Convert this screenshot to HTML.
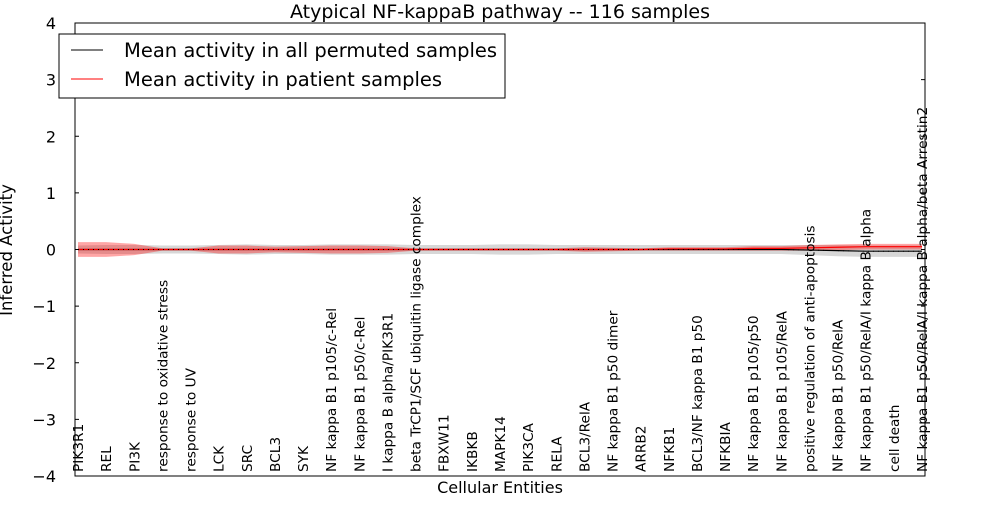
<!DOCTYPE html>
<html><head><meta charset="utf-8"><style>
body{margin:0;background:#fff;}
svg{font-family:"DejaVu Sans","Liberation Sans",sans-serif;}
</style></head><body>
<svg id="chart" width="1000" height="500">
<rect width="1000" height="500" fill="#fff"/>
<g id="bands"></g>
<g id="lines"></g>
<g id="xlabels"></g>
<rect x="75" y="23" width="850" height="453" fill="none" stroke="#000" stroke-width="1"/>
<g id="yticks"></g>
<text x="500" y="18" text-anchor="middle" font-size="19">Atypical NF-kappaB pathway -- 116 samples</text>
<text x="500" y="493" text-anchor="middle" font-size="16">Cellular Entities</text>
<text transform="translate(12,250) rotate(-90)" text-anchor="middle" font-size="16.5">Inferred Activity</text>
<g>
<rect x="59" y="34" width="446" height="64" fill="#fff" stroke="#000"/>
<line x1="71" y1="50" x2="103" y2="50" stroke="#000"/>
<text x="124" y="57" font-size="19.5">Mean activity in all permuted samples</text>
<line x1="71" y1="79" x2="103" y2="79" stroke="#f00"/>
<text x="124" y="86" font-size="19.5">Mean activity in patient samples</text>
</g>
</svg>
<script>
const categories=["PIK3R1","REL","PI3K","response to oxidative stress","response to UV","LCK","SRC","BCL3","SYK","NF kappa B1 p105/c-Rel","NF kappa B1 p50/c-Rel","I kappa B alpha/PIK3R1","beta TrCP1/SCF ubiquitin ligase complex","FBXW11","IKBKB","MAPK14","PIK3CA","RELA","BCL3/RelA","NF kappa B1 p50 dimer","ARRB2","NFKB1","BCL3/NF kappa B1 p50","NFKBIA","NF kappa B1 p105/p50","NF kappa B1 p105/RelA","positive regulation of anti-apoptosis","NF kappa B1 p50/RelA","NF kappa B1 p50/RelA/I kappa B alpha","cell death","NF kappa B1 p50/RelA/I kappa B alpha/beta Arrestin2"];
const patientMean=[0,0,0,0,0,0,0,0,0,0,0,0,0,0,0,0,0,0,0,0,0,0.01,0.01,0.01,0.02,0.02,0.03,0.04,0.05,0.05,0.05];
const patientSd=[0.13,0.13,0.1,0.02,0.02,0.07,0.07,0.05,0.06,0.07,0.07,0.06,0.02,0.02,0.02,0.02,0.02,0.02,0.04,0.03,0.02,0.03,0.03,0.03,0.04,0.04,0.05,0.05,0.05,0.05,0.05];
const permMean=[0,0,0,0,0,0,0,0,0,0,0,0,0,0,0,0,0,0,0,0,0,0,0,0,0,0,-0.01,-0.02,-0.03,-0.03,-0.03];
const permSd=[0.07,0.08,0.08,0.07,0.07,0.08,0.09,0.08,0.08,0.09,0.09,0.09,0.08,0.08,0.08,0.09,0.09,0.08,0.08,0.08,0.08,0.08,0.08,0.08,0.08,0.08,0.09,0.1,0.1,0.1,0.1];
const yTicks=[4,3,2,1,0,-1,-2,-3,-4];
const X=i=>78+i*(844/(categories.length-1));
const Y=v=>249.5-v*56.625;
const NS="http://www.w3.org/2000/svg";
function el(t,a,p){const e=document.createElementNS(NS,t);for(const k in a)e.setAttribute(k,a[k]);document.getElementById(p).appendChild(e);return e;}
function band(m,s){let up=m.map((v,i)=>X(i)+","+Y(v+s[i]));let dn=m.map((v,i)=>X(i)+","+Y(v-s[i])).reverse();return up.concat(dn).join(" ");}
function line(m){return m.map((v,i)=>X(i)+","+Y(v)).join(" ");}
let b1=el("polygon",{points:band(permMean,permSd),fill:"#bdbdbd","fill-opacity":"0.6"},"bands");


let b2=el("polygon",{points:band(patientMean,patientSd),fill:"#f00","fill-opacity":"0.35"},"bands");


let l1=el("polyline",{points:line(permMean),fill:"none",stroke:"#000","stroke-width":1.2},"lines");


let l2=el("polyline",{points:line(patientMean),fill:"none",stroke:"#f00","stroke-width":1.2},"lines");


let l3=el("polyline",{points:line(permMean),fill:"none",stroke:"#000","stroke-width":1,"stroke-dasharray":"1,4"},"lines");


categories.forEach((c,i)=>{
 const t=el("text",{transform:`translate(${X(i)+5},472) rotate(-90)`,"font-size":"13.7"},"xlabels");
 t.textContent=c;
 
 
});
yTicks.forEach(v=>{
 const y=Y(v);
 const a=el("line",{x1:75,y1:y,x2:79,y2:y,stroke:"#000"},"yticks");
 
 
 const b=el("line",{x1:921,y1:y,x2:925,y2:y,stroke:"#000"},"yticks");
 
 
 const t=el("text",{x:56,y:y+6,"text-anchor":"end","font-size":"16"},"yticks");
 t.textContent=(v<0?"\u2212"+(-v):v);
 
 
});
</script>
</body></html>
